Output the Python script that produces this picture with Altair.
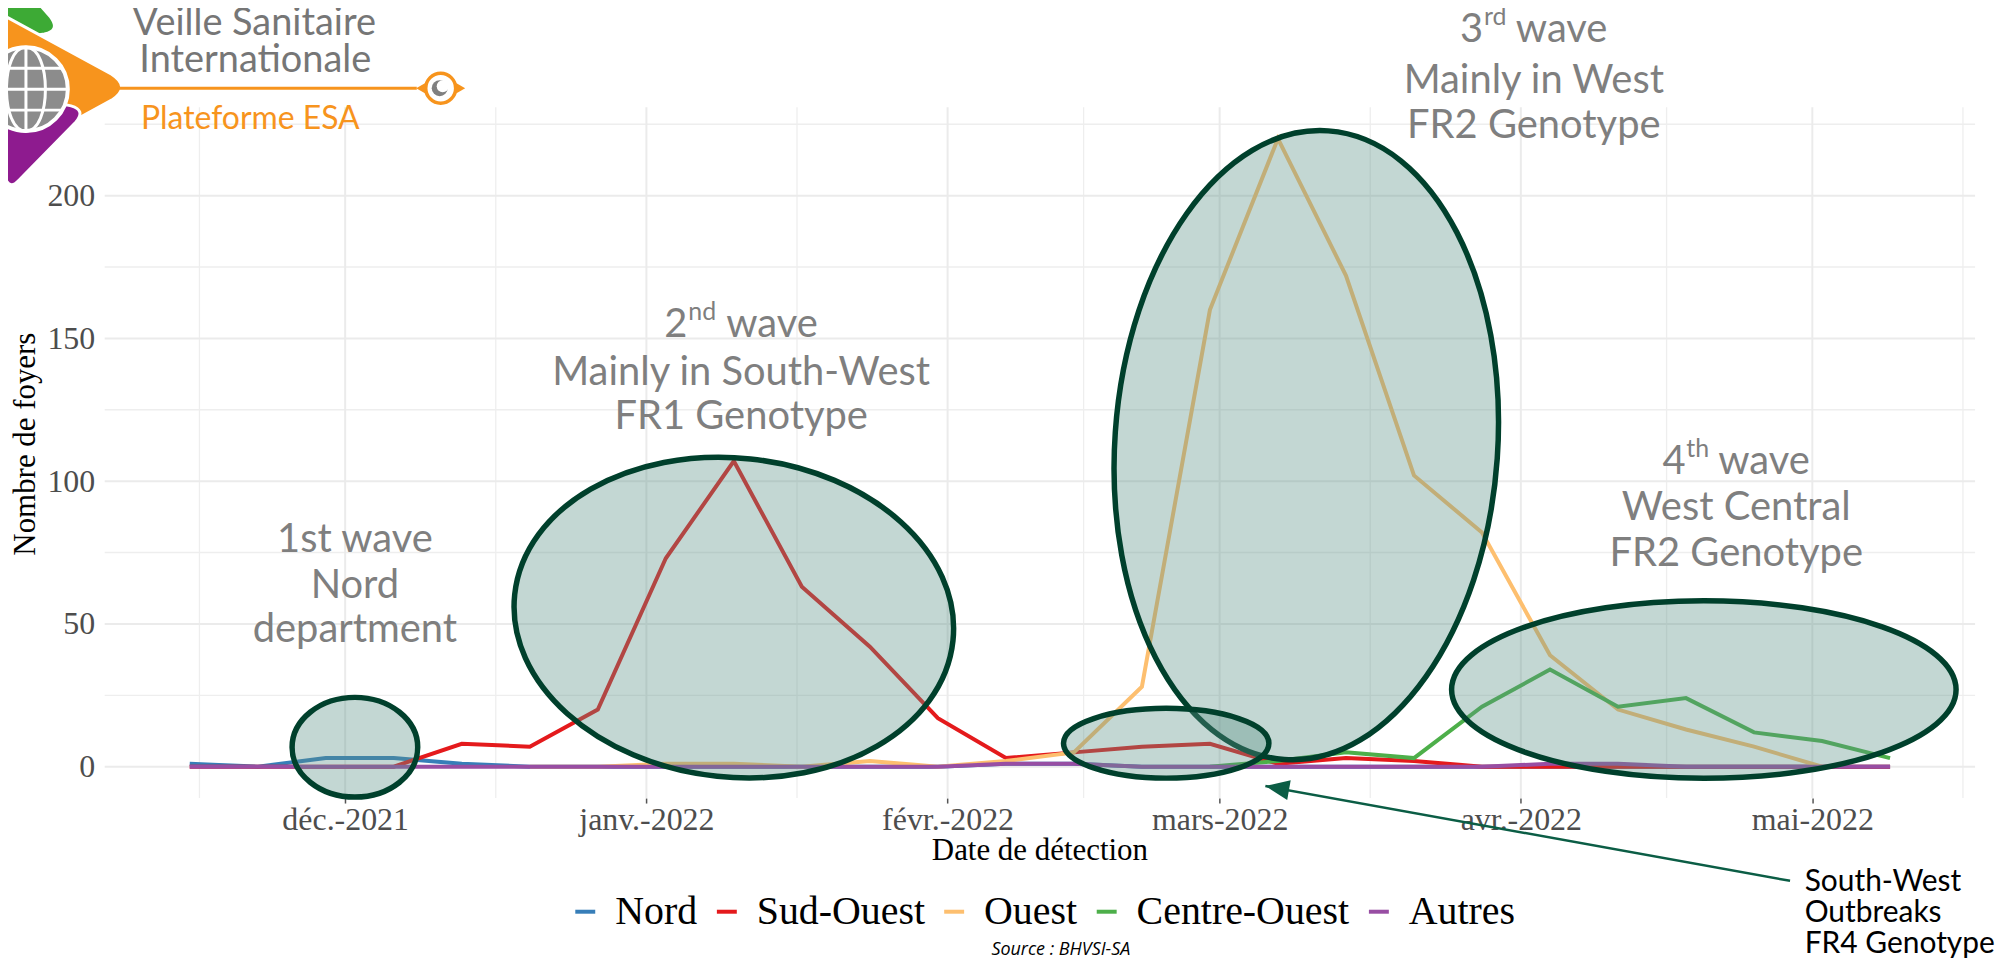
import altair as alt
import pandas as pd

# ---------------- data ----------------
WEEKS = [
    "2021-11-15", "2021-11-22", "2021-11-29", "2021-12-06", "2021-12-13", "2021-12-20",
    "2021-12-27", "2022-01-03", "2022-01-10", "2022-01-17", "2022-01-24", "2022-01-31",
    "2022-02-07", "2022-02-14", "2022-02-21", "2022-02-28", "2022-03-07", "2022-03-14",
    "2022-03-21", "2022-03-28", "2022-04-04", "2022-04-11", "2022-04-18", "2022-04-25",
    "2022-05-02", "2022-05-09",
]
SERIES = ["Nord", "Sud-Ouest", "Ouest", "Centre-Ouest", "Autres"]
COLORS = ["#377EB8", "#E41A1C", "#FDBF6F", "#4DAF4A", "#984EA3"]
NORD = [1, 0, 3, 3, 1, 0, 0, 0, 0, 0, 0, 0, 1, 1, 0, 0, 0, 0, 0, 0, 0, 0, 0, 0, 0, 0]
SUD_OUEST = [0, 0, 0, 0, 8, 7, 20, 73, 107, 63, 42, 17, 3, 5, 7, 8, 1, 3, 2, 0, 0, 0, 0, 0, 0, 0]
OUEST = [0, 0, 1, 1, 0, 2, 0, 2, 5, 28, 160, 220, 172, 102, 82, 39, 20, 13, 7, 0]  # from 2021-12-20
CENTRE_OUEST = [0, 2, 5, 3, 21, 34, 21, 24, 12, 9, 3]  # from 2022-02-28
AUTRES = [0, 0, 0, 0, 0, 0, 0, 0, 0, 0, 0, 0, 1, 1, 0, 0, 0, 0, 0, 0, 1, 1, 0, 0, 0, 0]
SERIES_VALUES = {"Nord": NORD, "Sud-Ouest": SUD_OUEST, "Ouest": OUEST,
                 "Centre-Ouest": CENTRE_OUEST, "Autres": AUTRES}
SERIES_FIRST_WEEK = {"Nord": 0, "Sud-Ouest": 0, "Ouest": 5, "Centre-Ouest": 15, "Autres": 0}

MONTH_NAMES = ["janv.", "févr.", "mars", "avr.", "mai", "juin", "juil.", "août",
               "sept.", "oct.", "nov.", "déc."]
MAJOR_X = ["2021-12-01", "2022-01-01", "2022-02-01", "2022-03-01", "2022-04-01", "2022-05-01"]
MINOR_X = ["2021-11-16T00:00:00Z", "2021-12-16T12:00:00Z", "2022-01-16T12:00:00Z",
           "2022-02-15T00:00:00Z", "2022-03-16T12:00:00Z", "2022-04-16T00:00:00Z",
           "2022-05-16T12:00:00Z"]
Y_TICKS = [0, 50, 100, 150, 200]
Y_MINOR = [25, 75, 125, 175, 225]

# annotations (anchor date, anchor value, text)
WAVE1 = [("2021-12-02T00:00:00Z", 79.5, "1st wave"), ("2021-12-02T00:00:00Z", 63.4, "Nord"),
         ("2021-12-02T00:00:00Z", 47.8, "department")]
WAVE_HEAD = [("2022-01-10T18:00:00Z", 154.7, "2", "nd"),
             ("2022-04-02T08:00:00Z", 258.1, "3", "rd"),
             ("2022-04-23T04:00:00Z", 106.8, "4", "th")]
WAVE_LINES = [("2022-01-10T18:00:00Z", 137.7, "Mainly in South-West"),
              ("2022-01-10T18:00:00Z", 122.5, "FR1 Genotype"),
              ("2022-04-02T08:00:00Z", 240.2, "Mainly in West"),
              ("2022-04-02T08:00:00Z", 224.5, "FR2 Genotype"),
              ("2022-04-23T04:00:00Z", 90.7, "West Central"),
              ("2022-04-23T04:00:00Z", 74.6, "FR2 Genotype")]
NOTE_LINES = [("2022-04-30T05:00:00Z", -40.3, "South-West"),
              ("2022-04-30T05:00:00Z", -51.3, "Outbreaks"),
              ("2022-04-30T05:00:00Z", -62.3, "FR4 Genotype")]
ARROW = {"d": "2022-04-28T17:00:00Z", "v": -40.0, "d2": "2022-03-05T17:00:00Z", "v2": -6.8}
# ellipses: centre date, centre value
ELLIPSES = [
    ("2021-12-02T00:00:00Z", 6.8),
    ("2022-01-10T00:00:00Z", 52.2),
    ("2022-03-09T22:00:00Z", 112.6),
    ("2022-04-19T20:00:00Z", 27.0),
    ("2022-02-23T12:00:00Z", 8.2),
]

# ---------------- layout ----------------
L, T = 105, 106
W, H = 1876, 693
XS = alt.Scale(type="utc", domain=[alt.DateTime(year=2021, month=11, date=6, hours=6, utc=True),
                                   alt.DateTime(year=2022, month=5, date=17, hours=18, utc=True)])
YS = alt.Scale(domain=[-11, 231], nice=False, zero=False)
SERIF = "Liberation Serif"
SANS = "Lato"
GREY_TXT = "#7F7F7F"
DARK = "#00402C"

label_expr = ("['" + "','".join(MONTH_NAMES) + "'][utcmonth(datum.value)] + '-' + utcyear(datum.value)")
X_AXIS = alt.Axis(values=[alt.DateTime(year=int(m[:4]), month=int(m[5:7]), date=1, utc=True) for m in MAJOR_X],
                  labelExpr=label_expr, title=None, grid=False, domain=False, ticks=True,
                  tickColor="#555555", tickSize=5, tickWidth=1.5, labelFont=SERIF, labelFontSize=32,
                  labelColor="#4D4D4D", labelPadding=2)
Y_AXIS = alt.Axis(values=Y_TICKS, title=None, grid=False, domain=False, ticks=False,
                  labelFont=SERIF, labelFontSize=32, labelColor="#4D4D4D", labelPadding=10)


def X(field):
    return alt.X(field, scale=XS, axis=X_AXIS)


def Y(field):
    return alt.Y(field, scale=YS, axis=Y_AXIS)


rows = []
for s in SERIES:
    start = SERIES_FIRST_WEEK[s]
    for w, v in zip(WEEKS[start:], SERIES_VALUES[s]):
        rows.append({"date": w, "serie": s, "n": v})
df = pd.DataFrame(rows)


def one():
    return alt.Data(values=[{}])


def ell_path(a, b):
    K = 0.5523
    f = lambda z: f"{z:.4f}"
    return (f"M {f(a)} 0 C {f(a)} {f(b*K)} {f(a*K)} {f(b)} 0 {f(b)} "
            f"C {f(-a*K)} {f(b)} {f(-a)} {f(b*K)} {f(-a)} 0 "
            f"C {f(-a)} {f(-b*K)} {f(-a*K)} {f(-b)} 0 {f(-b)} "
            f"C {f(a*K)} {f(-b)} {f(a)} {f(-b*K)} {f(a)} 0 Z")


layers = []

lines = alt.Chart(df).mark_line(strokeWidth=4).encode(
    x=X("date:T"),
    y=Y("n:Q"),
    color=alt.Color("serie:N", sort=SERIES, scale=alt.Scale(domain=SERIES, range=COLORS),
                    legend=alt.Legend(title=None, orient="none", legendX=462, legendY=787,
                                      direction="horizontal", symbolType="stroke",
                                      symbolStrokeWidth=4, symbolSize=400, labelFont=SERIF,
                                      labelFontSize=40, labelColor="black", labelOffset=10,
                                      columnPadding=9, labelLimit=0)),
)

# grid
grid = [
    alt.Chart(pd.DataFrame({"v": Y_MINOR})).mark_rule(color="#EEEEEE", strokeWidth=1.3)
    .encode(y=Y("v:Q")),
    alt.Chart(pd.DataFrame({"d": MINOR_X})).mark_rule(color="#EEEEEE", strokeWidth=1.3)
    .encode(x=X("d:T")),
    alt.Chart(pd.DataFrame({"v": Y_TICKS})).mark_rule(color="#EBEBEB", strokeWidth=2)
    .encode(y=Y("v:Q")),
    alt.Chart(pd.DataFrame({"d": MAJOR_X})).mark_rule(color="#EBEBEB", strokeWidth=2)
    .encode(x=X("d:T")),
]
layers.extend(grid)
layers.append(lines)

# ellipses
ELL_STYLE = [  # (a, b, size, angle)
    (1.0, 50 / 63, (2 * 63) ** 2, 0),
    (1.0, 160 / 221, (2 * 221) ** 2, 6),
    (192 / 316, 1.0, (2 * 316) ** 2, 4),
    (1.0, 89 / 253, (2 * 253) ** 2, 0),
    (1.0, 35 / 103, (2 * 103) ** 2, 0),
]
for (d, v), (a, b, size, ang) in zip(ELLIPSES, ELL_STYLE):
    layers.append(
        alt.Chart(pd.DataFrame({"d": [d], "v": [v]})).mark_point(
            shape=ell_path(a, b), size=size, angle=ang, filled=True, fill="#5D9388",
            fillOpacity=0.37, stroke=DARK, strokeWidth=5.5, strokeOpacity=1, opacity=1,
        ).encode(x=X("d:T"), y=Y("v:Q"))
    )

# arrow
layers.append(alt.Chart(pd.DataFrame([ARROW])).mark_rule(color="#0B5D45", strokeWidth=2.5).encode(
    x=X("d:T"), y=Y("v:Q"), x2="d2:T", y2="v2:Q"))
layers.append(alt.Chart(pd.DataFrame({"d": [ARROW["d2"]], "v": [ARROW["v2"]]})).mark_point(
    shape="M 0 0 L -1 -0.42 L -1 0.42 Z", size=(2 * 24) ** 2, angle=190, filled=True,
    fill="#0B5D45", opacity=1).encode(x=X("d:T"), y=Y("v:Q")))


def data_text(items, **mark):
    dfx = pd.DataFrame(items, columns=["d", "v", "t"])
    return alt.Chart(dfx).mark_text(**mark).encode(x=X("d:T"), y=Y("v:Q"), text="t:N")


ann = dict(font=SANS, fontSize=40, color=GREY_TXT, baseline="middle")
layers.append(data_text(WAVE1, align="center", **ann))
layers.append(data_text(WAVE_LINES, align="center", **ann))
SUP_W = {"nd": 29, "rd": 23, "th": 23}
for d, v, num, sup in WAVE_HEAD:
    sw = SUP_W[sup]
    total = 23 + sw + 9 + 93
    left = -total / 2
    layers.append(data_text([(d, v, num)], align="left", dx=left, **ann))
    layers.append(data_text([(d, v, sup)], align="left", dx=left + 24, dy=-13,
                            font=SANS, fontSize=25, color=GREY_TXT, baseline="middle"))
    layers.append(data_text([(d, v, "wave")], align="left", dx=left + 24 + sw + 9, **ann))
layers.append(data_text(NOTE_LINES, align="left", font=SANS, fontSize=30, color="black",
                        baseline="middle"))


# pixel-positioned page furniture
def px_text(text, Xp, Yp, **mark):
    return alt.Chart(one()).mark_text(text=text, **mark).encode(
        x=alt.value(Xp - L), y=alt.value(Yp - T))


def px_point(Xp, Yp, **mark):
    return alt.Chart(one()).mark_point(**mark).encode(x=alt.value(Xp - L), y=alt.value(Yp - T))


layers.append(px_text("Date de détection", 1043, 852, font=SERIF, fontSize=31, color="black",
                      align="center", baseline="middle"))
layers.append(px_text("Nombre de foyers", 26, 444, font=SERIF, fontSize=31, color="black",
                      align="center", baseline="middle", angle=270))
layers.append(px_text("Source : BHVSI-SA", 1064, 951, font="Open Sans", fontSize=18,
                      fontStyle="italic", color="black", align="center", baseline="middle"))

# logo
TRI = ("M 0.8 -0.13 Q 1 0 0.8 0.13 L -0.3 0.73 Q -0.5 0.85 -0.5 0.6 L -0.5 -0.6 "
       "Q -0.5 -0.85 -0.3 -0.73 Z")
ORANGE = "#F7941D"
layers.append(px_point(-5, 5, shape=TRI, size=(2 * 70) ** 2, angle=20, filled=True,
                       fill="#3DAA35", stroke="white", strokeWidth=3, opacity=1))
layers.append(px_point(32, 86, shape=TRI, size=(2 * 100) ** 2, angle=0, filled=True,
                       fill=ORANGE, stroke="white", strokeWidth=3, opacity=1))
layers.append(px_point(24, 128, shape=TRI, size=(2 * 65) ** 2, angle=343, filled=True,
                       fill="#8E1B8F", stroke="white", strokeWidth=3, opacity=1))
layers.append(px_point(26, 88, shape="circle", size=(2 * 42) ** 2, filled=True,
                       fill="#8C8C8C", stroke="white", strokeWidth=4, opacity=1))
GLOBE = ("M -1 0 L 1 0 M 0 -1 L 0 1 M -0.87 -0.5 L 0.87 -0.5 M -0.87 0.5 L 0.87 0.5 "
         "M 0 -1 C 0.62 -1 0.62 1 0 1 C -0.62 1 -0.62 -1 0 -1 Z")
layers.append(px_point(26, 88, shape=GLOBE, size=(2 * 42) ** 2, filled=False,
                       stroke="white", strokeWidth=3, opacity=1))
layers.append(alt.Chart(one()).mark_rule(color=ORANGE, strokeWidth=3).encode(
    x=alt.value(118 - L), x2=alt.value(418 - L), y=alt.value(87 - T)))
layers.append(px_point(442, 87, shape="circle", size=(2 * 15) ** 2, filled=True, fill="white",
                       stroke=ORANGE, strokeWidth=3.5, opacity=1))
layers.append(px_point(441, 87, shape="circle", size=(2 * 8) ** 2, filled=True, fill="#808080",
                       opacity=1))
layers.append(px_point(444, 85, shape="circle", size=(2 * 6) ** 2, filled=True, fill="white",
                       opacity=1))
layers.append(px_point(422, 87, shape="triangle-left", size=110, filled=True, fill=ORANGE, opacity=1))
layers.append(px_point(462, 87, shape="triangle-right", size=110, filled=True, fill=ORANGE, opacity=1))
layers.append(px_text("Veille Sanitaire", 255, 23, font=SANS, fontSize=38,
                      color="#767676", align="center", baseline="middle"))
layers.append(px_text("Internationale", 256, 60, font=SANS, fontSize=38,
                      color="#767676", align="center", baseline="middle"))
layers.append(px_text("Plateforme ESA", 251, 118, font=SANS, fontSize=32,
                      color=ORANGE, align="center", baseline="middle"))

chart = alt.layer(*layers).properties(
    width=W, height=H,
    autosize=alt.AutoSizeParams(type="none"),
    padding={"left": L - 8, "top": T - 8, "right": 2000 - (L - 8) - W, "bottom": 952 - (T - 8) - H},
    background="white",
).configure_view(stroke=None)

chart.save("out.html", embed_options={"renderer": "svg", "actions": False})
